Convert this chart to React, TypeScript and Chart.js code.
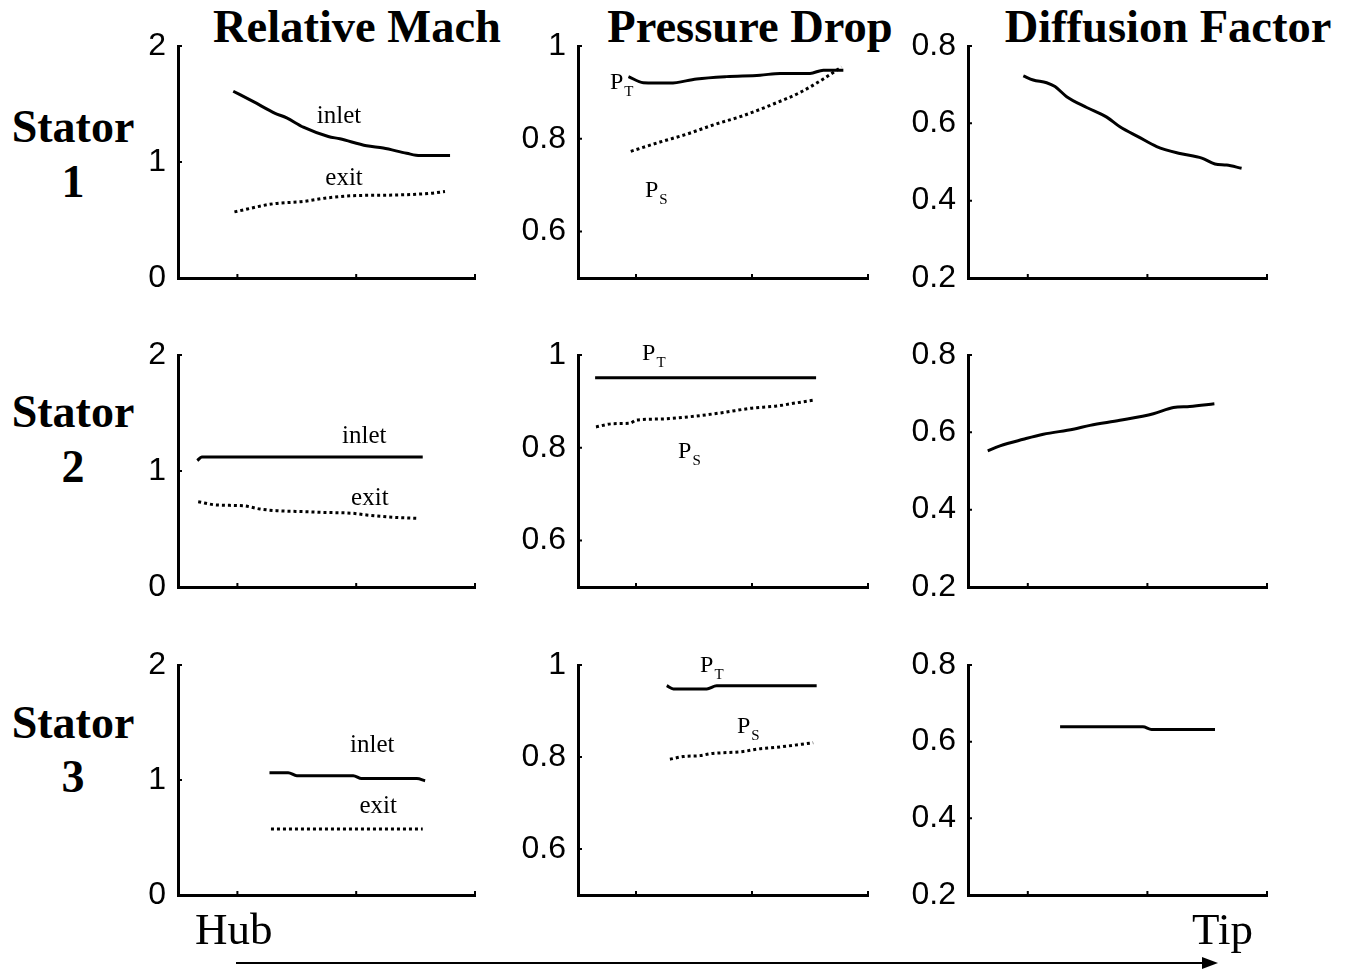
import React, { useEffect, useRef } from 'react';
import { Chart, registerables } from 'chart.js';

Chart.register(...registerables);

// ---------- data (x: hub=0 .. tip=1) ----------
const machS1InletX = [0.186, 0.254, 0.327, 0.366, 0.422, 0.506, 0.545, 0.635, 0.691, 0.77, 0.815, 0.916];
const machS1InletY = [1.61, 1.52, 1.42, 1.38, 1.3, 1.22, 1.2, 1.14, 1.12, 1.075, 1.055, 1.055];
const machS1ExitX = [0.19, 0.321, 0.422, 0.5, 0.59, 0.725, 0.848, 0.899];
const machS1ExitY = [0.57, 0.64, 0.66, 0.69, 0.71, 0.715, 0.73, 0.745];

const machS2InletX = [0.065, 0.08, 0.824];
const machS2InletY = [1.09, 1.12, 1.12];
const machS2ExitX = [0.068, 0.13, 0.22, 0.276, 0.332, 0.433, 0.478, 0.59, 0.635, 0.725, 0.809];
const machS2ExitY = [0.735, 0.707, 0.7, 0.672, 0.658, 0.649, 0.644, 0.635, 0.621, 0.601, 0.592];

const machS3InletX = [0.308, 0.371, 0.4, 0.59, 0.618, 0.804, 0.832];
const machS3InletY = [1.064, 1.064, 1.038, 1.038, 1.012, 1.012, 0.994];
const machS3ExitX = [0.313, 0.824];
const machS3ExitY = [0.574, 0.574];

const presS1TotalX = [0.174, 0.225, 0.317, 0.409, 0.512, 0.628, 0.697, 0.8, 0.846, 0.915];
const presS1TotalY = [0.934, 0.921, 0.92, 0.929, 0.934, 0.937, 0.941, 0.941, 0.948, 0.948];
const presS1StaticX = [0.182, 0.283, 0.375, 0.467, 0.57, 0.674, 0.766, 0.846, 0.909];
const presS1StaticY = [0.773, 0.793, 0.81, 0.83, 0.85, 0.875, 0.9, 0.929, 0.955];

const presS2TotalX = [0.059, 0.821];
const presS2TotalY = [0.951, 0.951];
const presS2StaticX = [0.062, 0.122, 0.179, 0.202, 0.283, 0.386, 0.501, 0.593, 0.685, 0.754, 0.817];
const presS2StaticY = [0.845, 0.852, 0.853, 0.86, 0.862, 0.867, 0.876, 0.885, 0.89, 0.897, 0.903];

const presS3TotalX = [0.306, 0.329, 0.444, 0.478, 0.823];
const presS3TotalY = [0.955, 0.948, 0.948, 0.955, 0.955];
const presS3StaticX = [0.317, 0.363, 0.421, 0.455, 0.57, 0.616, 0.685, 0.811];
const presS3StaticY = [0.795, 0.801, 0.803, 0.807, 0.812, 0.817, 0.821, 0.831];

const diffS1X = [0.185, 0.218, 0.263, 0.291, 0.33, 0.397, 0.464, 0.508, 0.57, 0.631, 0.709, 0.782, 0.826, 0.865, 0.915];
const diffS1Y = [0.723, 0.712, 0.705, 0.695, 0.669, 0.641, 0.616, 0.591, 0.565, 0.54, 0.522, 0.51, 0.495, 0.492, 0.484];
const diffS2X = [0.066, 0.107, 0.185, 0.252, 0.352, 0.408, 0.508, 0.62, 0.687, 0.742, 0.824];
const diffS2Y = [0.552, 0.565, 0.582, 0.595, 0.608, 0.618, 0.631, 0.648, 0.664, 0.667, 0.674];
const diffS3X = [0.308, 0.585, 0.614, 0.826];
const diffS3Y = [0.639, 0.639, 0.632, 0.632];

const machTicks = [0, 1, 2];
const presTicks = [0.6, 0.8, 1];
const diffTicks = [0.2, 0.4, 0.6, 0.8];
const xTicks = [0.2, 0.6, 1.0];

const columnTitles = ['Relative Mach', 'Pressure Drop', 'Diffusion Factor'];
const rowNames = ['Stator', 'Stator', 'Stator'];
const rowNumbers = ['1', '2', '3'];

// ---------- layout ----------
const COLS = [
  { L: 178, R: 475, min: 0, max: 2, ticks: machTicks },
  { L: 578, R: 868, min: 0.5, max: 1, ticks: presTicks },
  { L: 968, R: 1267, min: 0.2, max: 0.8, ticks: diffTicks },
];
const ROWS = [
  { T: 46, B: 278 },
  { T: 355, B: 587 },
  { T: 665, B: 895 },
];

type Label = { text: string; sub?: string; x: number; y: number };
type Series = { xs: number[]; ys: number[]; dotted: boolean };

const zip = (xs: number[], ys: number[]) => xs.map((x, i) => ({ x, y: ys[i] }));

const PANELS: { row: number; col: number; series: Series[]; labels: Label[] }[] = [
  {
    row: 0, col: 0,
    series: [
      { xs: machS1InletX, ys: machS1InletY, dotted: false },
      { xs: machS1ExitX, ys: machS1ExitY, dotted: true },
    ],
    labels: [{ text: 'inlet', x: 0.542, y: 1.397 }, { text: 'exit', x: 0.559, y: 0.862 }],
  },
  {
    row: 1, col: 0,
    series: [
      { xs: machS2InletX, ys: machS2InletY, dotted: false },
      { xs: machS2ExitX, ys: machS2ExitY, dotted: true },
    ],
    labels: [{ text: 'inlet', x: 0.627, y: 1.296 }, { text: 'exit', x: 0.646, y: 0.765 }],
  },
  {
    row: 2, col: 0,
    series: [
      { xs: machS3InletX, ys: machS3InletY, dotted: false },
      { xs: machS3ExitX, ys: machS3ExitY, dotted: true },
    ],
    labels: [{ text: 'inlet', x: 0.654, y: 1.304 }, { text: 'exit', x: 0.674, y: 0.768 }],
  },
  {
    row: 0, col: 1,
    series: [
      { xs: presS1TotalX, ys: presS1TotalY, dotted: false },
      { xs: presS1StaticX, ys: presS1StaticY, dotted: true },
    ],
    labels: [{ text: 'P', sub: 'T', x: 0.11, y: 0.908 }, { text: 'P', sub: 'S', x: 0.231, y: 0.674 }],
  },
  {
    row: 1, col: 1,
    series: [
      { xs: presS2TotalX, ys: presS2TotalY, dotted: false },
      { xs: presS2StaticX, ys: presS2StaticY, dotted: true },
    ],
    labels: [{ text: 'P', sub: 'T', x: 0.221, y: 0.989 }, { text: 'P', sub: 'S', x: 0.345, y: 0.779 }],
  },
  {
    row: 2, col: 1,
    series: [
      { xs: presS3TotalX, ys: presS3TotalY, dotted: false },
      { xs: presS3StaticX, ys: presS3StaticY, dotted: true },
    ],
    labels: [{ text: 'P', sub: 'T', x: 0.421, y: 0.985 }, { text: 'P', sub: 'S', x: 0.548, y: 0.852 }],
  },
  { row: 0, col: 2, series: [{ xs: diffS1X, ys: diffS1Y, dotted: false }], labels: [] },
  { row: 1, col: 2, series: [{ xs: diffS2X, ys: diffS2Y, dotted: false }], labels: [] },
  { row: 2, col: 2, series: [{ xs: diffS3X, ys: diffS3Y, dotted: false }], labels: [] },
];

const PAD_T = 30;
const PAD_B = 30;
const PAD_R = 12;
const YAXIS_W = 80;

const innerTicks = {
  id: 'innerTicks',
  afterDraw(chart: any) {
    const { ctx, chartArea, scales } = chart;
    ctx.save();
    ctx.strokeStyle = '#000';
    ctx.lineWidth = 2;
    ctx.beginPath();
    scales.y.ticks.forEach((t: any) => {
      const py = scales.y.getPixelForValue(t.value);
      ctx.moveTo(chartArea.left, py);
      ctx.lineTo(chartArea.left + 4, py);
    });
    xTicks.forEach((v) => {
      const px = scales.x.getPixelForValue(v);
      ctx.moveTo(px, chartArea.bottom);
      ctx.lineTo(px, chartArea.bottom - 4);
    });
    ctx.stroke();
    ctx.restore();
  },
};

const textLabels = {
  id: 'textLabels',
  afterDatasetsDraw(chart: any, _args: any, opts: any) {
    const labels: Label[] = opts.items || [];
    const { ctx, scales } = chart;
    ctx.save();
    ctx.fillStyle = '#000';
    labels.forEach((lb) => {
      const px = scales.x.getPixelForValue(lb.x);
      const py = scales.y.getPixelForValue(lb.y);
      if (lb.sub) {
        ctx.font = '24px "Liberation Serif", serif';
        ctx.textAlign = 'left';
        ctx.textBaseline = 'alphabetic';
        ctx.fillText(lb.text, px, py);
        const w = ctx.measureText(lb.text).width;
        ctx.font = '15px "Liberation Serif", serif';
        ctx.fillText(lb.sub, px + w + 1, py + 7);
      } else {
        ctx.font = '25px "Liberation Serif", serif';
        ctx.textAlign = 'center';
        ctx.textBaseline = 'middle';
        ctx.fillText(lb.text, px, py);
      }
    });
    ctx.restore();
  },
};

function Panel({ p }: { p: (typeof PANELS)[number] }) {
  const ref = useRef<HTMLCanvasElement | null>(null);
  const col = COLS[p.col];
  const row = ROWS[p.row];
  const width = col.R - col.L + YAXIS_W + PAD_R;
  const height = row.B - row.T + PAD_T + PAD_B;

  useEffect(() => {
    if (!ref.current) return;
    const chart = new Chart(ref.current, {
      type: 'line',
      data: {
        datasets: p.series.map((s) => ({
          data: zip(s.xs, s.ys),
          borderColor: '#000',
          borderWidth: 3,
          borderDash: s.dotted ? [3, 3] : [],
          borderCapStyle: 'butt',
          pointRadius: 0,
          fill: false,
          cubicInterpolationMode: 'monotone',
        })),
      },
      options: {
        animation: false,
        responsive: false,
        events: [],
        layout: { padding: { left: 0, top: PAD_T, right: PAD_R, bottom: PAD_B } },
        plugins: {
          legend: { display: false },
          tooltip: { enabled: false },
          textLabels: { items: p.labels },
        } as any,
        scales: {
          x: {
            type: 'linear',
            min: 0,
            max: 1,
            grid: { display: false },
            border: { display: true, color: '#000', width: 3 },
            ticks: { display: false },
            afterFit: (s: any) => {
              s.height = 0;
            },
          },
          y: {
            type: 'linear',
            min: col.min,
            max: col.max,
            afterBuildTicks: (s: any) => {
              s.ticks = col.ticks.map((v) => ({ value: v }));
            },
            grid: { display: false },
            border: { display: true, color: '#000', width: 3 },
            ticks: {
              color: '#000',
              padding: 4,
              font: { family: '"Liberation Sans", Arial, sans-serif', size: 32 },
              callback: (v: any) => String(v),
            },
            afterFit: (s: any) => {
              s.width = YAXIS_W;
            },
          },
        },
      },
      plugins: [innerTicks, textLabels],
    } as any);
    return () => chart.destroy();
  }, []);

  return (
    <canvas
      ref={ref}
      width={width}
      height={height}
      style={{
        position: 'absolute',
        left: col.L - YAXIS_W,
        top: row.T - PAD_T,
        width,
        height,
      }}
    />
  );
}

const serif = '"Liberation Serif", "Times New Roman", serif';

function TextAt({
  text, x, baseline, size, bold, align,
}: { text: string; x: number; baseline: number; size: number; bold?: boolean; align: 'center' | 'left' | 'right' }) {
  const top = baseline - size * 0.838;
  const style: React.CSSProperties = {
    position: 'absolute',
    top,
    fontFamily: serif,
    fontSize: size,
    fontWeight: bold ? 'bold' : 'normal',
    lineHeight: 1,
    whiteSpace: 'nowrap',
    color: '#000',
  };
  if (align === 'center') {
    style.left = x;
    style.transform = 'translateX(-50%)';
  } else if (align === 'left') {
    style.left = x;
  } else {
    style.right = 1349 - x;
  }
  return <div style={style}>{text}</div>;
}

export default function App() {
  const titleX = [357, 750, 1168];
  const rowBase = [
    [143, 198],
    [428, 483],
    [739, 793],
  ];
  return (
    <div
      style={{
        position: 'absolute',
        left: 0,
        top: 0,
        width: 1349,
        height: 974,
        background: '#fff',
        overflow: 'hidden',
      }}
    >
      {columnTitles.map((t, i) => (
        <TextAt key={t} text={t} x={titleX[i]} baseline={43} size={46.5} bold align="center" />
      ))}
      {rowNames.map((n, i) => (
        <React.Fragment key={i}>
          <TextAt text={n} x={73} baseline={rowBase[i][0]} size={46} bold align="center" />
          <TextAt text={rowNumbers[i]} x={73} baseline={rowBase[i][1]} size={46} bold align="center" />
        </React.Fragment>
      ))}
      {PANELS.map((p, i) => (
        <Panel key={i} p={p} />
      ))}
      <TextAt text="Hub" x={195} baseline={945} size={45} align="left" />
      <TextAt text="Tip" x={1253} baseline={945} size={45} align="right" />
      <svg
        width={1349}
        height={974}
        style={{ position: 'absolute', left: 0, top: 0, pointerEvents: 'none' }}
      >
        <line x1={236} y1={963} x2={1205} y2={963} stroke="#000" strokeWidth={2} />
        <polygon points="1202,957 1218,963 1202,969" fill="#000" />
      </svg>
    </div>
  );
}
